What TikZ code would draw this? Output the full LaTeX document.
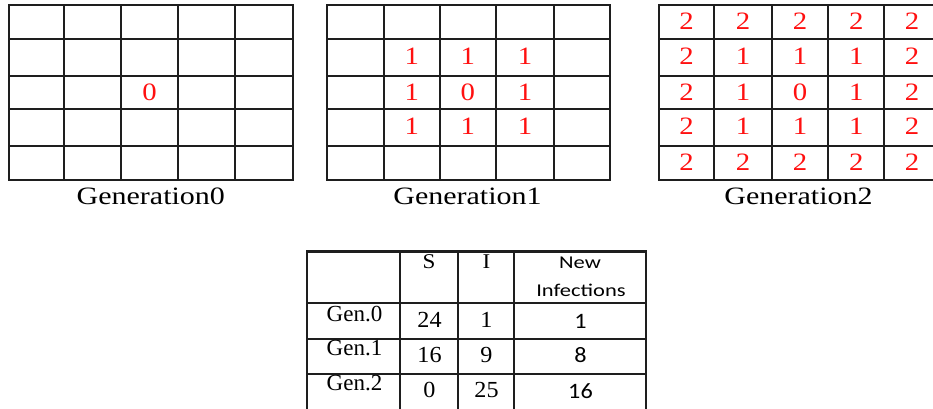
\documentclass[tikz,border=0pt]{standalone}
\usepackage{graphicx}
\usepackage{fontspec}
\setmainfont{Liberation Serif}
\newfontfamily\calibfont{Carlito}
\newcommand\hstretch[2]{\scalebox{#1}[1]{#2}}
\definecolor{linegray}{HTML}{1E1E1E}
\definecolor{infred}{HTML}{FF1010}
\begin{document}
\begin{tikzpicture}[x=1pt,y=-1pt,
  gridline/.style={line width=2.2pt, draw=linegray, line cap=rect},
  cellnum/.style={anchor=base, inner sep=0pt, text=infred, font=\fontsize{25}{25}\selectfont},
  genlabel/.style={anchor=base, inner sep=0pt, font=\fontsize{25}{25}\selectfont},
  tabserif/.style={anchor=base, inner sep=0pt, font=\fontsize{23}{23}\selectfont},
  tabsans/.style={anchor=base, inner sep=0pt, font=\calibfont\fontsize{22}{22}\selectfont},
  tabhead/.style={anchor=base, inner sep=0pt, font=\calibfont\fontsize{18}{18}\selectfont},
  ]
\useasboundingbox (0,0) rectangle (933,408);
\clip (0,0) rectangle (933,408);

% ---------- grid 1 ----------
\foreach \x in {9,63.7,121.3,178,235.3,292.7} \draw[gridline] (\x,4.7) -- (\x,180);
\foreach \y in {4.7,39.3,75.7,109.3,145.7,180} \draw[gridline] (9,\y) -- (292.7,\y);
\node[cellnum] (a33) at (149.65,100.5) {\hstretch{1.15}{0}};
\node[genlabel] (lab0) at (150.8,204.3) {\hstretch{1.2}{Generation0}};

% ---------- grid 2 ----------
\foreach \x in {327.3,383.7,440,495.7,554.3,610} \draw[gridline] (\x,4.7) -- (\x,180);
\foreach \y in {4.7,39.3,75.7,109.3,145.7,180} \draw[gridline] (327.3,\y) -- (610,\y);
\foreach \cx [count=\c] in {355.5,411.85,467.85,525,582.15}
  \foreach \by [count=\r] in {29.4,64,100.5,134,170.4} {
    \pgfmathtruncatemacro\dr{abs(\r-3)}
    \pgfmathtruncatemacro\dc{abs(\c-3)}
    \pgfmathtruncatemacro\dd{max(\dr,\dc)}
    \ifnum\dd<2
      \node[cellnum] (b\r\c) at (\cx,\by) {\hstretch{1.15}{\dd}};
    \fi
  }
\node[genlabel] (lab1) at (467.5,204.3) {\hstretch{1.2}{Generation1}};

% ---------- grid 3 ----------
\foreach \x in {659,714,772,828.3,884.3,940} \draw[gridline] (\x,4.7) -- (\x,180);
\foreach \y in {4.7,39.3,75.7,109.3,145.7,180} \draw[gridline] (659,\y) -- (940,\y);
\foreach \cx [count=\c] in {686.5,743,800.15,856.3,912.15}
  \foreach \by [count=\r] in {29.4,64,100.5,134,170.4} {
    \pgfmathtruncatemacro\dr{abs(\r-3)}
    \pgfmathtruncatemacro\dc{abs(\c-3)}
    \pgfmathtruncatemacro\dd{max(\dr,\dc)}
    \node[cellnum] (c\r\c) at (\cx,\by) {\hstretch{1.15}{\dd}};
  }
\node[genlabel] (lab2) at (798.5,204.3) {\hstretch{1.2}{Generation2}};

% ---------- table ----------
\foreach \x in {307.3,400,458.3,514.3,646} \draw[gridline] (\x,251.5) -- (\x,412);
\foreach \y in {251.5,303.3,339,374.3,412} \draw[gridline] (307.3,\y) -- (646,\y);

\node[tabserif, font=\fontsize{21}{21}\selectfont] (hS) at (429,268.3) {\hstretch{1.1}{S}};
\node[tabserif, font=\fontsize{21}{21}\selectfont] (hI) at (486.5,268.3) {\hstretch{1.1}{I}};
\node[tabhead] (hNew) at (580,268.3) {\hstretch{1.25}{New}};
\node[tabhead] (hInf) at (581,296) {\hstretch{1.25}{Infections}};

\node[tabserif] (g0) at (354.5,321) {Gen.0};
\node[tabserif] (g1) at (354.5,355.5) {Gen.1};
\node[tabserif] (g2) at (354.5,390) {Gen.2};

\node[tabserif] (s0) at (429.5,327) {\hstretch{1.05}{24}};
\node[tabserif] (s1) at (429.5,362) {\hstretch{1.05}{16}};
\node[tabserif] (s2) at (429.5,397) {\hstretch{1.05}{0}};

\node[tabserif] (i0) at (486.5,327) {\hstretch{1.05}{1}};
\node[tabserif] (i1) at (486.5,362) {\hstretch{1.05}{9}};
\node[tabserif] (i2) at (486.5,397) {\hstretch{1.05}{25}};

\node[tabsans] (n0) at (580.5,328) {\hstretch{1.1}{1}};
\node[tabsans] (n1) at (580.5,362) {\hstretch{1.1}{8}};
\node[tabsans] (n2) at (580.5,398) {\hstretch{1.1}{16}};
\end{tikzpicture}
\end{document}
